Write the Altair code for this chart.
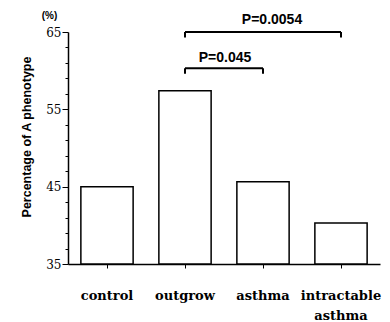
import altair as alt
import pandas as pd

categories = ["control", "outgrow", "asthma", "intractable asthma"]
values = [45.0, 57.4, 45.65, 40.3]

bracket_from = ["outgrow", "outgrow"]
bracket_to = ["asthma", "intractable asthma"]
bracket_y = [60.3, 65.0]
bracket_label = ["P=0.045", "P=0.0054"]
label_y = [61.7, 66.6]
tick_depth = 0.7

y_ticks = list(range(35, 66, 2)) + [65]

bars_df = pd.DataFrame({"group": categories, "pct": values, "base": [35] * 4})
h_df = pd.DataFrame({"x1": bracket_from, "x2": bracket_to, "y": bracket_y})
v_rows = []
for f, t, y in zip(bracket_from, bracket_to, bracket_y):
    v_rows.append({"x": f, "y": y, "y2": y - tick_depth})
    v_rows.append({"x": t, "y": y, "y2": y - tick_depth})
v_df = pd.DataFrame(v_rows)
t_df = pd.DataFrame({"label": bracket_label, "y": label_y})

xscale = alt.Scale(domain=categories, paddingInner=0.33, paddingOuter=0.165)
yscale = alt.Scale(domain=[35, 65], nice=False, zero=False)

x_axis = alt.Axis(
    title=None, labelAngle=0, labelFont="DejaVu Serif", labelFontWeight="bold",
    labelFontSize=13, labelColor="black", labelPadding=21, labelLineHeight=20,
    labelExpr="datum.label == 'intractable asthma' ? ['intractable', 'asthma'] : datum.label",
    tickSize=4, tickColor="black", tickWidth=1, domainColor="black", domainWidth=1.5,
)
y_axis = alt.Axis(
    title="(%)", titleFont="Liberation Sans", titleFontSize=10,
    titleFontWeight="bold", titleColor="black", titleX=-19, titleY=-17, titleAngle=0,
    titleAlign="center", titleBaseline="middle",
    values=y_ticks, labelExpr="(datum.value - 35) % 10 == 0 ? datum.label : ''",
    labelOverlap=False,
    labelFont="DejaVu Serif", labelFontSize=12, labelColor="black", labelPadding=1,
    tickSize={"condition": {"test": "(datum.value - 35) % 10 == 0", "value": 6}, "value": 3},
    tickColor="black", tickWidth=1, domainColor="black", domainWidth=1.5, grid=False,
)


def X(field):
    return alt.X(field, type="nominal", scale=xscale, sort=categories, axis=x_axis)


def Y(field):
    return alt.Y(field, type="quantitative", scale=yscale, axis=y_axis)


bars = alt.Chart(bars_df).mark_bar(fill="white", stroke="black", strokeWidth=1.5).encode(
    x=X("group"), y=Y("pct"), y2=alt.Y2("base:Q"),
)

hline = alt.Chart(h_df).mark_rule(color="black", strokeWidth=2).encode(
    x=X("x1"), x2="x2:N", y=Y("y"),
)
vline = alt.Chart(v_df).mark_rule(color="black", strokeWidth=2).encode(
    x=X("x"), y=Y("y"), y2="y2:Q",
)

t1 = alt.Chart(t_df.iloc[[0]]).mark_text(
    font="Liberation Sans", fontWeight="bold", fontSize=14, color="black", dx=-38
).encode(
    x=X("x"), y=Y("y"), text="label:N",
).transform_calculate(x="'asthma'")
t2 = alt.Chart(t_df.iloc[[1]]).mark_text(
    font="Liberation Sans", fontWeight="bold", fontSize=14, color="black", dx=9
).encode(
    x=X("x"), y=Y("y"), text="label:N",
).transform_calculate(x="'asthma'")

chart = alt.layer(bars, hline, vline, t1, t2).properties(
    width=312, height=232,
    title=alt.TitleParams(text="Percentage of A phenotype", orient="left", anchor="middle",
                          frame="group", fontSize=12.5, font="Liberation Sans",
                          fontWeight="bold", color="black", offset=8, dx=11),
    autosize=alt.AutoSizeParams(type="none"),
    padding={"left": 60, "top": 24, "right": 2, "bottom": 60},
).configure_view(stroke=None)

chart.save("out.html", embed_options={"renderer": "svg", "actions": False})
